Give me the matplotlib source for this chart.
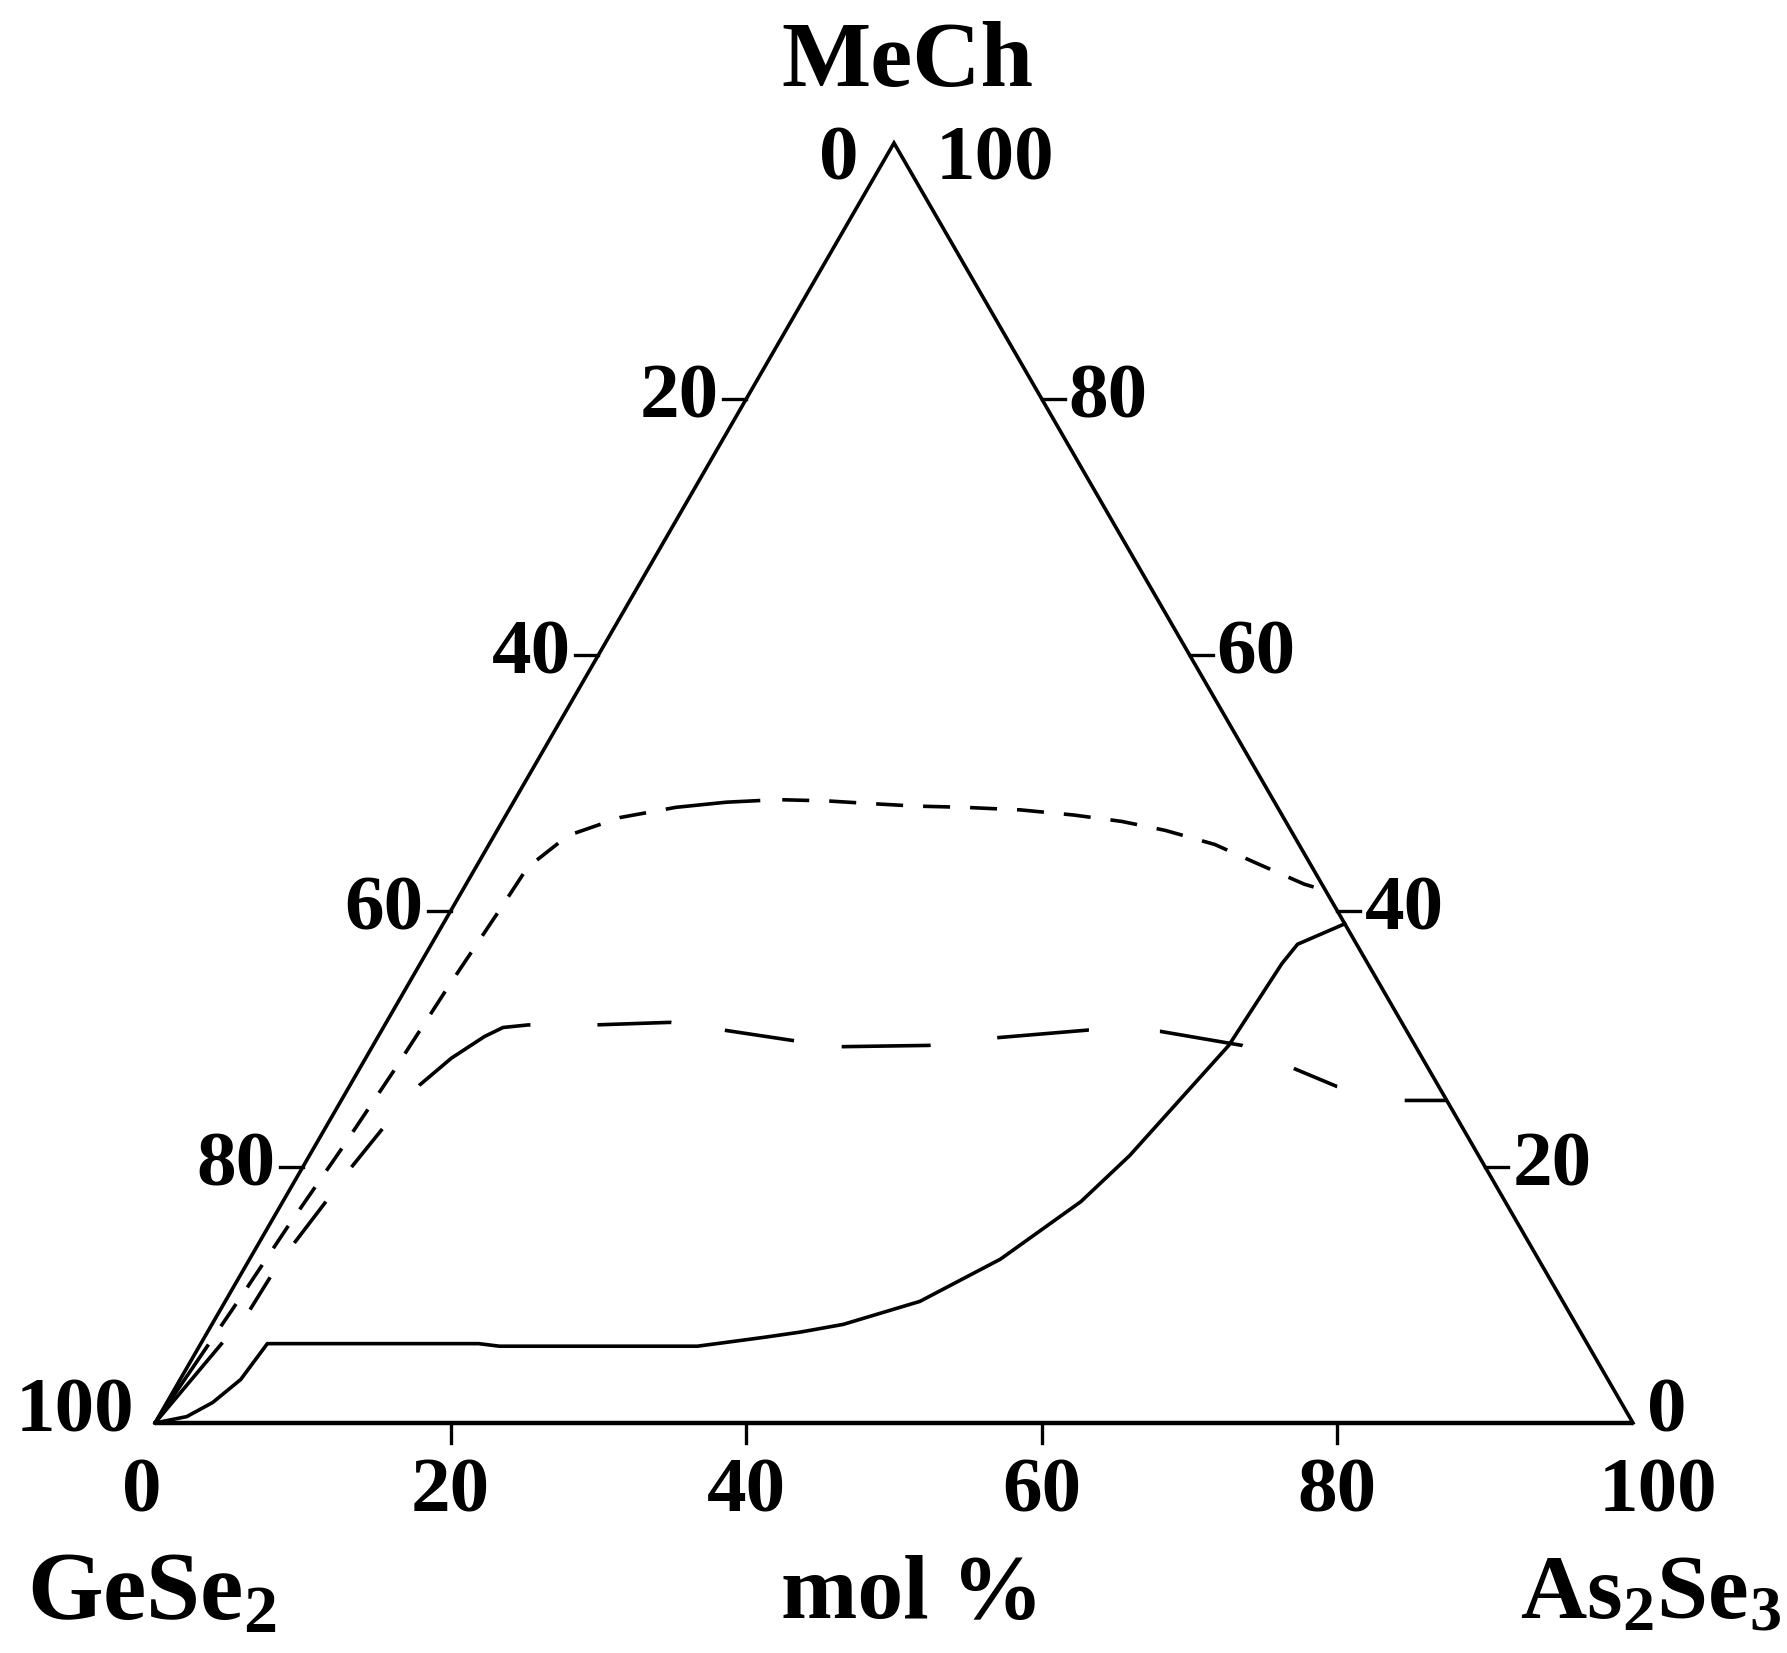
import numpy as np
import matplotlib
matplotlib.use("Agg")
import matplotlib.pyplot as plt

plt.rcParams['font.family'] = ['Liberation Serif', 'DejaVu Serif']
plt.rcParams['font.weight'] = 'bold'
plt.rcParams['mathtext.fontset'] = 'custom'
plt.rcParams['mathtext.rm'] = 'Liberation Serif:bold'

# compositions (mol %): As2Se3 and MeCh, GeSe2 is the rest
solid_as2se3 = [0, 1.9, 3.1, 4.1, 4.5, 18.8, 20.3, 33.7, 37.9, 40.1, 42.7, 47.0,
                50.8, 54.0, 55.5, 57.9, 58.3, 58.6, 61.0]
solid_mech = [0, 0.5, 1.6, 3.4, 6.2, 6.2, 6.0, 6.0, 6.7, 7.1, 7.7, 9.5,
              12.8, 17.3, 20.9, 29.5, 35.9, 37.4, 39.0]

short_as2se3 = [0, 0.9, 1.3, 1.9, 2.4, 2.8, 3.3, 3.5, 5.0, 7.8, 11.2, 14.4, 17.8,
                21.2, 24.1, 27.3, 30.7, 34.6, 38.4, 41.9, 45.2, 49.1, 52.5, 56.7, 58.4]
short_mech = [0, 10.0, 15.2, 21.3, 27.5, 34.1, 40.4, 43.4, 45.9, 47.3, 48.1, 48.5, 48.7,
              48.6, 48.4, 48.2, 48.1, 47.9, 47.5, 47.0, 46.3, 45.2, 43.8, 42.1, 41.6]

long_as2se3 = [0, 2.0, 2.1, 2.4, 2.9, 3.3, 3.9, 4.7, 5.8, 7.2, 8.1, 9.7, 14.2, 19.2,
               23.1, 28.1, 31.7, 37.6, 41.9, 47.8, 52.7, 58.8, 63.2, 66.8, 71.8, 74.8]
long_mech = [0, 8.8, 11.4, 14.1, 17.2, 20.0, 23.0, 26.4, 28.5, 30.2, 30.9, 31.1, 31.1, 31.3,
             30.7, 29.9, 29.4, 29.5, 30.1, 30.7, 30.6, 29.5, 27.7, 26.3, 25.2, 25.2]

tick_values = [0, 20, 40, 60, 80, 100]

H = np.sqrt(3) / 2
PX = 14.78  # pixels per data unit (side = 100 units)


def to_xy(as2se3, mech):
    a = np.asarray(as2se3, float)
    m = np.asarray(mech, float)
    return a + m / 2, m * H


def px_dashes(seq, lw):
    # dash lengths given in pixels -> matplotlib units (scaled by linewidth)
    return [v / (lw * 100 / 72) for v in seq]


fig = plt.figure(figsize=(17.87, 16.53), dpi=100)
ax = fig.add_axes([0, 0, 1, 1])
ax.set_xlim(-155 / PX, (1787 - 155) / PX)
ax.set_ylim((1423 - 1653) / PX, 1423 / PX)
ax.axis('off')

# triangle
ax.plot([0, 50, 100], [0, 100 * H, 0], color='black', lw=2.6, solid_joinstyle='miter')
ax.plot([0, 100], [0, 0], color='black', lw=3.2, solid_capstyle='butt')

# ticks
tl = 23 / PX
for v in tick_values[1:-1]:
    ax.plot([v, v], [0, -20 / PX], color='black', lw=2.4)
    m = 100 - v
    lx, ly = m / 2, m * H
    ax.plot([lx - tl, lx], [ly, ly], color='black', lw=2.4)
    rx, ry = 100 - v / 2, v * H
    ax.plot([rx, rx + tl], [ry, ry], color='black', lw=2.4)

# curves
lw = 2.6
x, y = to_xy(solid_as2se3, solid_mech)
ax.plot(x, y, color='black', lw=lw)

x, y = to_xy(short_as2se3, short_mech)
ln, = ax.plot(x, y, color='black', lw=lw, solid_capstyle='butt')
ln.set_dashes(px_dashes([95, 22] + [27, 20] * 45, lw))

x, y = to_xy(long_as2se3, long_mech)
ln, = ax.plot(x, y, color='black', lw=lw)
ln.set_dashes(px_dashes([105, 43, 38, 42, 52, 43, 49, 57, 130, 67, 74, 54, 70, 48,
                         89, 67, 92, 71, 84, 56, 47, 69, 44, 100], lw))

# tick labels
fs = 57
gap = 4 / PX
for v in tick_values:
    # bottom: As2Se3
    bx = v
    if v == 0:
        bx = -0.9
    elif v == 100:
        bx = 101.7
    ax.text(bx, -70 / PX, str(v), ha='center', va='center', fontsize=fs, fontweight='bold')
    # left: GeSe2
    m = 100 - v
    if v == 0:
        ax.text(47.6, 85.4, '0', ha='right', va='center', fontsize=fs, fontweight='bold')
    elif v == 100:
        ax.text(-1.4, 0.7, '100', ha='right', va='center', fontsize=fs, fontweight='bold')
    else:
        ax.text(m / 2 - tl - gap, m * H, str(v), ha='right', va='center',
                fontsize=fs, fontweight='bold')
    # right: MeCh
    if v == 100:
        ax.text(52.8, 85.4, '100', ha='left', va='center', fontsize=fs, fontweight='bold')
    elif v == 0:
        ax.text(100.95, 0.7, '0', ha='left', va='center', fontsize=fs, fontweight='bold')
    else:
        ax.text(100 - v / 2 + tl + gap, v * H, str(v), ha='left', va='center',
                fontsize=fs, fontweight='bold')

# component names
nfs = 66
ax.text(50.9, 92.0, 'MeCh', ha='center', va='center', fontsize=68, fontweight='bold')
ax.text(-0.2, -11.7, r'GeSe$\mathregular{_2}$', ha='center', va='center',
        fontsize=70, fontweight='bold')
ax.text(51.2, -11.7, 'mol %', ha='center', va='center', fontsize=nfs, fontweight='bold')
ax.text(101.2, -11.7, r'As$\mathregular{_2}$Se$\mathregular{_3}$', ha='center', va='center',
        fontsize=nfs, fontweight='bold')

fig.savefig('out.png', dpi=100)
